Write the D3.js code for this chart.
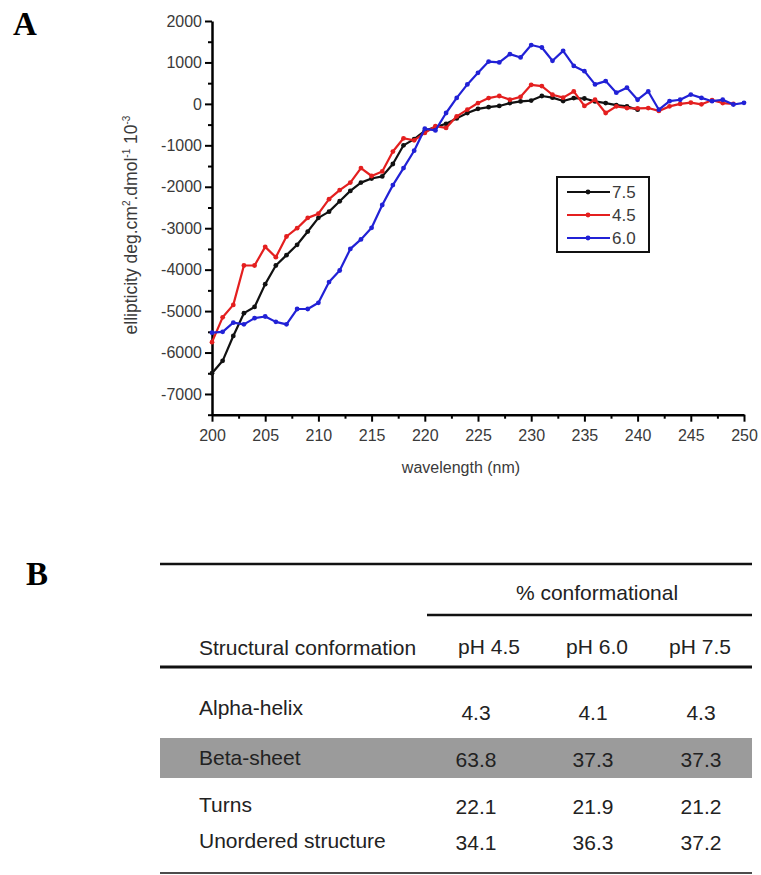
<!DOCTYPE html>
<html>
<head>
<meta charset="utf-8">
<script src="https://cdnjs.cloudflare.com/ajax/libs/d3/7.8.5/d3.min.js"></script>
<style>
	body { margin: 0; background: #fff; }
	svg { display: block; font-family: "Liberation Sans", Arial, sans-serif; }
</style>
</head>
<body>
<div id="chart"></div>
<script>

// wavelength in nm, one reading per nm
const wavelengths = d3.range(200, 251);

const ph75 = [
	-6500, -6200, -5600, -5050, -4900, -4350, -3900, -3650, -3400, -3080,
	-2750, -2600, -2350, -2100, -1900, -1800, -1750, -1450, -1000, -850,
	-650, -560, -480, -350, -220, -120, -80, -50, 20, 60,
	80, 190, 150, 70, 140, 130, 60, 20, -30, -60,
	-140
];

const ph45 = [
	-5750, -5150, -4850, -3900, -3900, -3450, -3700, -3200, -3000, -2750,
	-2650, -2300, -2080, -1900, -1550, -1740, -1630, -1150, -830, -880,
	-700, -540, -580, -300, -140, 20, 140, 190, 100, 170,
	460, 430, 220, 150, 300, -50, 100, -220, -60, -100,
	-110, -100, -170, -60, 0, 30, -10, 90, 20, 0
];

const ph60 = [
	-5520, -5500, -5280, -5320, -5170, -5130, -5260, -5320, -4950, -4950,
	-4800, -4300, -4020, -3500, -3270, -2990, -2440, -1960, -1550, -1130,
	-600, -640, -220, 145, 470, 750, 1020, 1000, 1200, 1120,
	1420, 1360, 1040, 1280, 915, 790, 470, 550, 270, 390,
	100, 300, -140, 65, 100, 225, 145, 65, 100, -15,
	25
];

const seriesNames = ['7.5', '4.5', '6.0'];
const seriesValues = [ph75, ph45, ph60];
const seriesColors = ['#111111', '#e41f1f', '#2121d6'];

const xTicks = d3.range(200, 251, 5);
const yTicks = d3.range(-7000, 2001, 1000);

// panel B
const conformations = ['Alpha-helix', 'Beta-sheet', 'Turns', 'Unordered structure'];
const phColumns = ['pH 4.5', 'pH 6.0', 'pH 7.5'];
const pct45 = [4.3, 63.8, 22.1, 34.1];
const pct60 = [4.1, 37.3, 21.9, 36.3];
const pct75 = [4.3, 37.3, 21.2, 37.2];
const highlightRow = 'Beta-sheet';

class CDChart {

	constructor(options) {
		this.element = options.element;
		this.draw();
	}

	draw() {
		this.width = 761;
		this.height = 875;

		this.createSVG();
		this.createScales();
		this.createAxes();
		this.createLines();
		this.createLegend();
		this.createTable();
	}

	createSVG() {
		this.svg = d3.select(this.element)
			.append('svg')
				.attr('width', this.width)
				.attr('height', this.height);

		this.svg.append('text')
			.attr('x', 13)
			.attr('y', 35)
			.attr('font-family', '"Liberation Serif", "Times New Roman", serif')
			.attr('font-weight', 'bold')
			.attr('font-size', 33)
			.text('A');

		this.svg.append('text')
			.attr('x', 26)
			.attr('y', 585)
			.attr('font-family', '"Liberation Serif", "Times New Roman", serif')
			.attr('font-weight', 'bold')
			.attr('font-size', 33)
			.text('B');
	}

	createScales() {
		this.xScale = d3.scaleLinear()
			.domain([200, 250])
			.range([212, 744]);

		this.yScale = d3.scaleLinear()
			.domain([-7500, 2000])
			.range([414.7, 21]);
	}

	createAxes() {
		const bottom = this.yScale.range()[0];
		const left = this.xScale.range()[0];

		// minor ticks first, majors on top
		this.svg.append('g')
			.attr('transform', `translate(0, ${bottom})`)
			.call(d3.axisBottom(this.xScale)
				.tickValues(d3.range(202.5, 250, 5))
				.tickSize(4)
				.tickSizeOuter(0)
				.tickFormat(''))
			.call(g => g.select('.domain').remove())
			.selectAll('line').attr('stroke-width', 2);

		this.svg.append('g')
			.attr('transform', `translate(${left}, 0)`)
			.call(d3.axisLeft(this.yScale)
				.tickValues(d3.range(-7500, 2000, 1000))
				.tickSize(4)
				.tickSizeOuter(0)
				.tickFormat(''))
			.call(g => g.select('.domain').remove())
			.selectAll('line').attr('stroke-width', 2);

		this.xAxis = d3.axisBottom(this.xScale)
			.tickValues(xTicks)
			.tickSize(7)
			.tickSizeOuter(0)
			.tickPadding(8)
			.tickFormat(d => String(d));

		const gx = this.svg.append('g')
			.attr('class', 'xAxis')
			.attr('transform', `translate(0, ${bottom})`)
			.call(this.xAxis);

		this.yAxis = d3.axisLeft(this.yScale)
			.tickValues(yTicks)
			.tickSize(7)
			.tickSizeOuter(0)
			.tickPadding(3)
			.tickFormat(d => String(d));

		const gy = this.svg.append('g')
			.attr('class', 'yAxis')
			.attr('transform', `translate(${left}, 0)`)
			.call(this.yAxis);

		[gx, gy].forEach(g => {
			g.select('.domain').attr('stroke', '#000').attr('stroke-width', 2.5);
			g.selectAll('line').attr('stroke', '#000').attr('stroke-width', 2);
			g.selectAll('text')
				.attr('font-size', 16)
				.attr('font-family', '"Liberation Sans", Arial, sans-serif')
				.attr('fill', '#3a3a3a');
		});

		this.svg.append('text')
			.attr('x', 461)
			.attr('y', 473)
			.attr('text-anchor', 'middle')
			.attr('font-size', 16)
			.attr('fill', '#3a3a3a')
			.text('wavelength (nm)');

		const yLabel = this.svg.append('text')
			.attr('transform', 'translate(137, 225) rotate(-90)')
			.attr('text-anchor', 'middle')
			.attr('font-size', 17.5)
			.attr('fill', '#3a3a3a');

		yLabel.append('tspan').text('ellipticity deg.cm');
		yLabel.append('tspan').attr('dy', -7).attr('font-size', 10).text('2');
		yLabel.append('tspan').attr('dy', 7).text('.dmol');
		yLabel.append('tspan').attr('dy', -7).attr('font-size', 10).text('-1');
		yLabel.append('tspan').attr('dy', 7).text(' 10');
		yLabel.append('tspan').attr('dy', -7).attr('font-size', 10).text('-3');
	}

	createLines() {
		var that = this;

		const line = d3.line()
			.x((d, i) => that.xScale(wavelengths[i]))
			.y(d => that.yScale(d));

		this.lines = this.svg.append('g');

		seriesValues.forEach((values, s) => {
			const g = this.lines.append('g');

			g.append('path')
				.datum(values)
				.attr('fill', 'none')
				.attr('stroke', seriesColors[s])
				.attr('stroke-width', 2.2)
				.attr('stroke-linejoin', 'round')
				.attr('d', line);

			g.selectAll('circle')
				.data(values)
				.join('circle')
					.attr('cx', (d, i) => that.xScale(wavelengths[i]))
					.attr('cy', d => that.yScale(d))
					.attr('r', 2.4)
					.attr('fill', seriesColors[s]);
		});
	}

	createLegend() {
		const legend = this.svg.append('g')
			.attr('transform', 'translate(557, 177)');

		legend.append('rect')
			.attr('width', 92)
			.attr('height', 75)
			.attr('fill', '#fff')
			.attr('stroke', '#111')
			.attr('stroke-width', 2);

		const rows = legend.selectAll('g.entry')
			.data(seriesNames)
			.join('g')
				.attr('class', 'entry')
				.attr('transform', (d, i) => `translate(0, ${15 + i * 23})`);

		rows.append('line')
			.attr('x1', 10)
			.attr('x2', 53)
			.attr('stroke', (d, i) => seriesColors[i])
			.attr('stroke-width', 2.2);

		rows.append('circle')
			.attr('cx', 31)
			.attr('r', 2.4)
			.attr('fill', (d, i) => seriesColors[i]);

		rows.append('text')
			.attr('x', 55)
			.attr('dy', '0.35em')
			.attr('font-size', 17)
			.attr('fill', '#3a3a3a')
			.text(d => d);
	}

	createTable() {
		const table = this.svg.append('g');
		const left = 160;
		const right = 752;
		const textLeft = 199;
		const fs = 21;

		const headX = d3.scaleOrdinal()
			.domain(phColumns)
			.range([489, 597, 700]);

		const valueX = d3.scaleOrdinal()
			.domain(phColumns)
			.range([476, 593, 701]);

		const rowY = d3.scaleOrdinal()
			.domain(conformations)
			.range([715, 765, 812, 848]);

		const rowColumns = [pct45, pct60, pct75];

		table.append('rect')
			.datum(highlightRow)
			.attr('x', left)
			.attr('y', d => rowY(d) - 27)
			.attr('width', right - left)
			.attr('height', 40)
			.attr('fill', '#9b9b9b');

		const rule = (x1, y, w) => table.append('line')
			.attr('x1', x1).attr('x2', right)
			.attr('y1', y).attr('y2', y)
			.attr('stroke', '#111')
			.attr('stroke-width', w);

		rule(left, 564, 2.5);
		rule(427, 615, 2.5);
		rule(left, 667, 3);
		rule(left, 873, 1.5);

		table.append('text')
			.attr('x', 597)
			.attr('y', 600)
			.attr('text-anchor', 'middle')
			.attr('font-size', fs)
			.attr('fill', '#222')
			.text('% conformational');

		table.append('text')
			.attr('x', textLeft)
			.attr('y', 655)
			.attr('font-size', fs)
			.attr('fill', '#222')
			.text('Structural conformation');

		table.selectAll('text.col')
			.data(phColumns)
			.join('text')
				.attr('class', 'col')
				.attr('x', d => headX(d))
				.attr('y', 654)
				.attr('text-anchor', 'middle')
				.attr('font-size', fs)
				.attr('fill', '#222')
				.text(d => d);

		table.selectAll('text.row')
			.data(conformations)
			.join('text')
				.attr('class', 'row')
				.attr('x', textLeft)
				.attr('y', d => rowY(d))
				.attr('font-size', fs)
				.attr('fill', '#222')
				.text(d => d);

		rowColumns.forEach((values, c) => {
			table.selectAll(`text.v${c}`)
				.data(values)
				.join('text')
					.attr('class', `v${c}`)
					.attr('x', valueX(phColumns[c]))
					.attr('y', (d, i) => rowY(conformations[i]) + (i === 0 ? 5 : 2))
					.attr('text-anchor', 'middle')
					.attr('font-size', fs)
					.attr('fill', '#222')
					.text(d => d.toFixed(1));
		});
	}

}

new CDChart({ element: '#chart' });

</script>
</body>
</html>
